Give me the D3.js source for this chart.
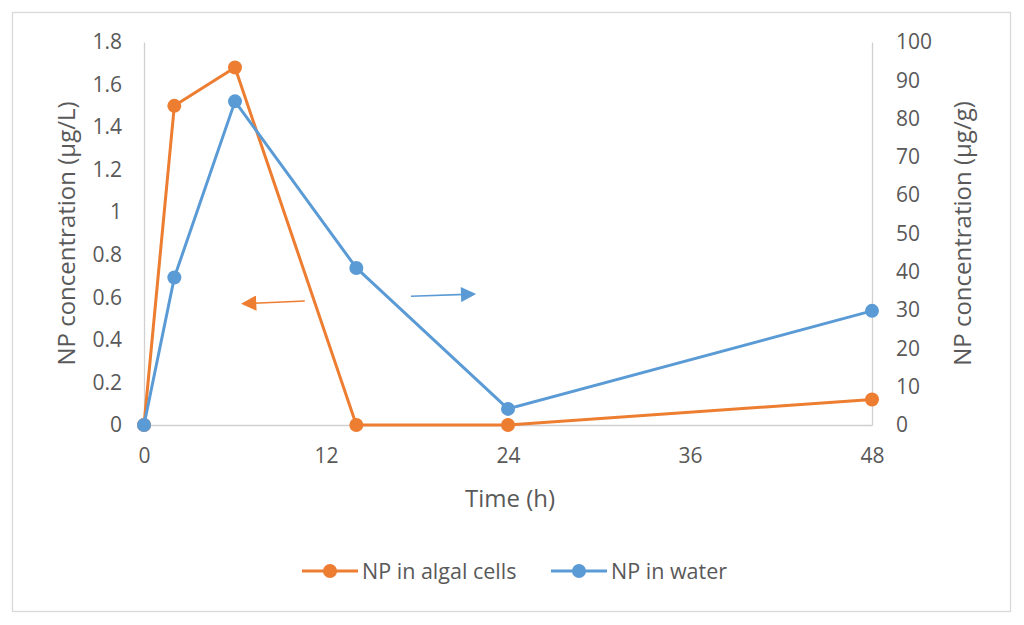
<!DOCTYPE html>
<html>
<head>
<meta charset="utf-8">
<script src="https://cdn.jsdelivr.net/npm/d3@7"></script>
<style>
  body { margin: 0; background: #fff; }
  text { font-family: "Open Sans", sans-serif; fill: #595959; }
</style>
</head>
<body>
<svg id="chart" width="1024" height="625"></svg>
<script>
// ===== DADOS =====
const hours = [0, 2, 6, 14, 24, 48];
const algalCells = [0, 1.5, 1.68, 0, 0, 0.12];   // eixo esquerdo (µg/L)
const water = [0, 38.5, 84.5, 41, 4.2, 29.8];      // eixo direito (µg/g)
const xTicks = [0, 12, 24, 36, 48];
const leftTicks = [0, 0.2, 0.4, 0.6, 0.8, 1, 1.2, 1.4, 1.6, 1.8];
const rightTicks = [0, 10, 20, 30, 40, 50, 60, 70, 80, 90, 100];
const seriesNames = ["NP in algal cells", "NP in water"];
// setas indicadoras (em unidades dos dados)
const leftArrow = { from: [10.6, 0.583], to: [7.1, 0.572] };
const rightArrow = { from: [17.6, 33.6], to: [21.2, 34.1] };

const ORANGE = "#ED7D31";
const BLUE = "#5B9BD5";

const svg = d3.select("#chart");
const margin = { top: 42, right: 152, bottom: 200, left: 144 };
const width = 1024 - margin.left - margin.right;
const height = 625 - margin.top - margin.bottom;

// moldura
svg.append("rect")
  .attr("x", 12.5).attr("y", 12.5)
  .attr("width", 998).attr("height", 599)
  .attr("fill", "#fff").attr("stroke", "#D9D9D9").attr("stroke-width", 1.3);

const defs = svg.append("defs");
[["arrow-orange", ORANGE], ["arrow-blue", BLUE]].forEach(([id, c]) => {
  defs.append("marker")
    .attr("id", id)
    .attr("viewBox", "0 0 10 10")
    .attr("refX", 3).attr("refY", 5)
    .attr("markerWidth", 10).attr("markerHeight", 9.5)
    .attr("markerUnits", "strokeWidth")
    .attr("orient", "auto")
    .append("path").attr("d", "M0,0 L10,5 L0,10 z").attr("fill", c);
});

const g = svg.append("g").attr("transform", `translate(${margin.left},${margin.top})`);

const x = d3.scaleLinear().domain([0, 48]).range([0, width]);
const yL = d3.scaleLinear().domain([0, 1.8]).range([height, 0]);
const yR = d3.scaleLinear().domain([0, 100]).range([height, 0]);

// ===== EIXOS =====
const xAxis = g.append("g").attr("transform", `translate(0,${height})`)
  .call(d3.axisBottom(x).tickValues(xTicks).tickSize(0).tickPadding(23));
const lAxis = g.append("g")
  .call(d3.axisLeft(yL).tickValues(leftTicks).tickSize(0).tickPadding(22).tickFormat(d3.format("~g")));
const rAxis = g.append("g").attr("transform", `translate(${width},0)`)
  .call(d3.axisRight(yR).tickValues(rightTicks).tickSize(0).tickPadding(24));

[xAxis, lAxis, rAxis].forEach(a => {
  a.select(".domain").attr("stroke", "#D0D0D0").attr("stroke-width", 1.3);
  a.selectAll("text").attr("font-size", 21).attr("font-family", "Open Sans").attr("fill", "#595959");
});

// títulos
g.append("text")
  .attr("x", width / 2 + 2).attr("y", height + 82)
  .attr("text-anchor", "middle").attr("font-size", 24)
  .text("Time (h)");
g.append("text")
  .attr("transform", `translate(${-77},${height / 2}) rotate(-90)`)
  .attr("text-anchor", "middle").attr("dy", "0.35em").attr("font-size", 24)
  .text("NP concentration (µg/L)");
g.append("text")
  .attr("transform", `translate(${width + 91},${height / 2}) rotate(-90)`)
  .attr("text-anchor", "middle").attr("dy", "0.35em").attr("font-size", 24)
  .text("NP concentration (µg/g)");

// ===== SÉRIES =====
const dataAlgal = hours.map((h, i) => [h, algalCells[i]]);
const dataWater = hours.map((h, i) => [h, water[i]]);

function drawSeries(data, yScale, color) {
  g.append("path")
    .datum(data)
    .attr("fill", "none")
    .attr("stroke", color)
    .attr("stroke-width", 3)
    .attr("stroke-linejoin", "round")
    .attr("d", d3.line().x(d => x(d[0])).y(d => yScale(d[1])));
  g.selectAll(null)
    .data(data)
    .enter().append("circle")
    .attr("cx", d => x(d[0]))
    .attr("cy", d => yScale(d[1]))
    .attr("r", 7)
    .attr("fill", color);
}
drawSeries(dataAlgal, yL, ORANGE);
drawSeries(dataWater, yR, BLUE);

// setas
g.append("line")
  .attr("x1", x(leftArrow.from[0])).attr("y1", yL(leftArrow.from[1]))
  .attr("x2", x(leftArrow.to[0])).attr("y2", yL(leftArrow.to[1]))
  .attr("stroke", ORANGE).attr("stroke-width", 1.6)
  .attr("marker-end", "url(#arrow-orange)");
g.append("line")
  .attr("x1", x(rightArrow.from[0])).attr("y1", yR(rightArrow.from[1]))
  .attr("x2", x(rightArrow.to[0])).attr("y2", yR(rightArrow.to[1]))
  .attr("stroke", BLUE).attr("stroke-width", 1.6)
  .attr("marker-end", "url(#arrow-blue)");

// ===== LEGENDA =====
const legend = svg.append("g").attr("transform", "translate(302,571)");
const legendX = [0, 249];
seriesNames.forEach((name, i) => {
  const item = legend.append("g").attr("transform", `translate(${legendX[i]},0)`);
  const c = i === 0 ? ORANGE : BLUE;
  item.append("line").attr("x1", 0).attr("x2", 56).attr("y1", 0).attr("y2", 0)
    .attr("stroke", c).attr("stroke-width", 3);
  item.append("circle").attr("cx", 28).attr("cy", 0).attr("r", 7).attr("fill", c);
  item.append("text").attr("x", 60).attr("dy", "0.35em").attr("font-size", 21.5).text(name);
});
</script>
</body>
</html>
